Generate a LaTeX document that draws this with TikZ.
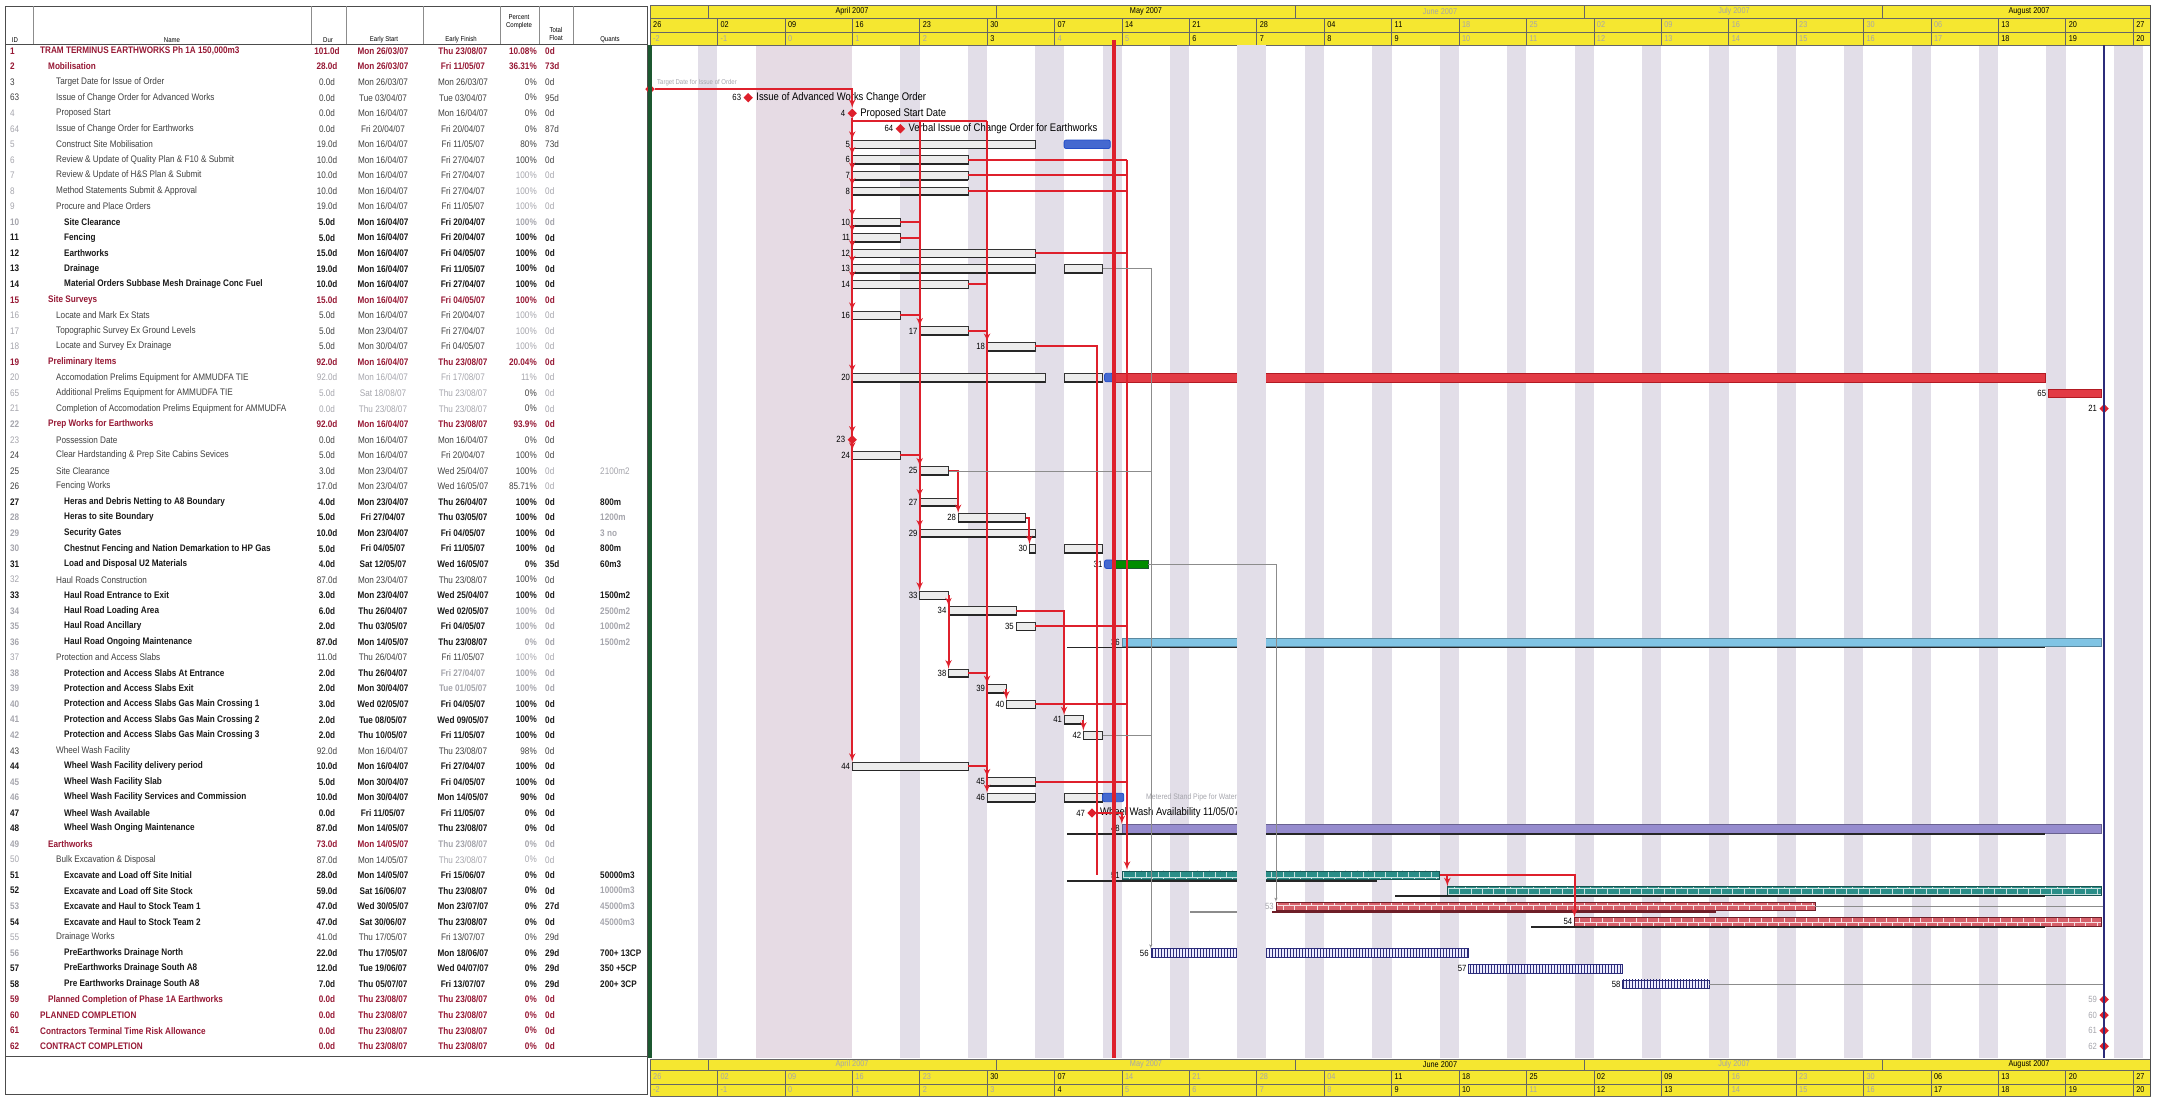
\documentclass[tikz,border=0pt]{standalone}
\usepackage{fontspec}
\setmainfont{Liberation Sans}[FakeStretch=0.86]
\usetikzlibrary{shapes,arrows,patterns,positioning}

\definecolor{hdryel}{RGB}{245,231,48}
\definecolor{wkgray}{RGB}{226,222,232}
\definecolor{eastc}{RGB}{230,219,228}
\definecolor{barg}{RGB}{236,236,236}
\definecolor{redc}{RGB}{222,32,44}
\definecolor{dredc}{RGB}{150,24,52}
\definecolor{grnc}{RGB}{28,88,48}
\definecolor{navyc}{RGB}{44,44,122}
\definecolor{bluec}{RGB}{36,78,200}
\definecolor{lblue}{RGB}{128,196,228}
\definecolor{lavc}{RGB}{150,140,206}
\definecolor{tealc}{RGB}{42,142,136}
\definecolor{pinkc}{RGB}{214,96,106}
\definecolor{maroonc}{RGB}{110,30,40}
\definecolor{fogc}{RGB}{165,165,172}

\newcommand{\tabfont}{\fontsize{9.5}{10}\selectfont}
\newcommand{\blur}{\color{fogc}}

% table styles
\tikzstyle{tbl} = [draw=black!70, line width=0.8pt]
\tikzstyle{tblthin} = [draw=black!45, line width=0.5pt]
\tikzstyle{hd} = [font=\fontsize{7}{7.5}\selectfont, align=center, inner sep=0pt]
\tikzstyle{idc} = [anchor=west, inner sep=0pt]
\tikzstyle{nmc} = [anchor=west, inner sep=0pt]
\tikzstyle{ctr} = [anchor=center, inner sep=0pt]
\tikzstyle{rgt} = [anchor=east, inner sep=0pt]
\tikzstyle{lft} = [anchor=west, inner sep=0pt]
\tikzstyle{rsum} = [text=dredc, font=\tabfont\bfseries]
\tikzstyle{rbold} = [text=black!90, font=\tabfont\bfseries]
\tikzstyle{rnorm} = [text=black!75]
\tikzset{lvl/.code={\def\lvl{#1}}}

% chart styles
\tikzstyle{wkend} = [fill=wkgray]
\tikzstyle{hdrline} = [draw=black!60, line width=0.5pt]
\tikzstyle{ink} = [text=black]
\tikzstyle{fog} = [text=fogc]
\tikzstyle{wtxt} = [font=\fontsize{8.5}{9}\selectfont, anchor=west, inner sep=0pt]
\tikzstyle{mtxt} = [font=\fontsize{8.5}{9}\selectfont, inner sep=0pt]
\tikzstyle{cb} = [inner sep=0pt, outer sep=0pt, minimum height=8.5pt, anchor=west]
\tikzstyle{bar} = [cb, draw=black!80, fill=barg, line width=0.4pt]
\tikzstyle{splitb} = [cb, draw=bluec, fill=bluec!85, line width=0.8pt, rounded corners=2pt]
\tikzstyle{redbar} = [cb, draw=redc!80!black, fill=redc!88, line width=0.4pt]
\tikzstyle{grnbar} = [cb, draw=grnc, fill=green!55!black, line width=0.4pt]
\tikzstyle{bluebar} = [cb, fill=lblue, draw=lblue!70!black, line width=0.3pt]
\tikzstyle{lavbar} = [cb, fill=lavc, draw=lavc!70!black, line width=0.3pt]
\tikzstyle{tealbar} = [cb, draw=tealc!60!black, preaction={fill=tealc}, pattern=bricks, pattern color=white!75!tealc]
\tikzstyle{pinkbar} = [cb, draw=maroonc, preaction={fill=pinkc}, pattern=bricks, pattern color=white!80!pinkc]
\tikzstyle{navbar} = [cb, draw=navyc, preaction={fill=blue!8}, pattern=vertical lines, pattern color=navyc]
\tikzstyle{num} = [font=\fontsize{9}{9.5}\selectfont, inner sep=2pt, text=black]
\tikzstyle{lbl} = [font=\fontsize{11}{12}\selectfont, inner sep=3pt, text=black]
\tikzstyle{mile} = [diamond, fill=redc, inner sep=0pt, minimum size=9.5pt]
\tikzstyle{prog} = [draw=black!85, line width=1.7pt]
\tikzstyle{baseln} = [draw=black!85, line width=1.8pt]
\tikzstyle{link} = [draw=redc, line width=2pt]
\tikzstyle{glink} = [draw=black!45, line width=0.5pt]

\newcount\rowno
\newcommand{\trow}[9]{\global\advance\rowno by 1\relax
  \begin{scope}[#1]
  \node[idc] (id\the\rowno) at (10,{ry(\the\rowno)}) {#2};
  \node[nmc] (nm\the\rowno) at ({40+8*(\lvl-1)},{ry(\the\rowno)}) {#3};
  \node[ctr] (du\the\rowno) at (327,{ry(\the\rowno)}) {#4};
  \node[ctr] (es\the\rowno) at (383,{ry(\the\rowno)}) {#5};
  \node[ctr] (ef\the\rowno) at (463,{ry(\the\rowno)}) {#6};
  \node[rgt] (pc\the\rowno) at (537,{ry(\the\rowno)}) {#7};
  \node[lft] (tf\the\rowno) at (545,{ry(\the\rowno)}) {#8};
  \node[lft] (qu\the\rowno) at (600,{ry(\the\rowno)}) {#9};
  \end{scope}}
\newcommand{\cbar}[6][bar]{\node[#1, minimum width={(#5-#4)*9.63pt}, label={[num]left:#6}] (#2) at ({dd(#4)},{ry(#3)}) {};}
\newcommand{\gbar}[5]{\cbar{#1}{#2}{#3}{#4}{#5}\draw[prog] (#1.south west) -- (#1.south east);}

\begin{document}
\begin{tikzpicture}[x=1pt, y=-1pt, font=\tabfont,
    declare function={dd(\d)=650+9.63*\d; ry(\k)=51+15.55*(\k-1);}]
  \useasboundingbox (0,0) rectangle (2170,1096);

  % Table frame and header
  \draw[tbl] (5,6) rectangle (647,1094);
  \draw[tbl] (5,44) -- (647,44);
  \draw[tbl] (5,1056) -- (647,1056);
  \foreach \x in {33,311,346,423,500,539,573} \draw[tblthin] (\x,6) -- (\x,44);
  \node[hd] (hid) at (15,40) {ID};
  \node[hd] (hname) at (172,40) {Name};
  \node[hd] (hdur) at (328,40) {Dur};
  \node[hd] (hes) at (384,40) {Early Start};
  \node[hd] (hef) at (461,40) {Early Finish};
  \node[hd] (hpc) at (519,22) {Percent\\Complete};
  \node[hd] (htf) at (556,34) {Total\\Float};
  \node[hd] (hq) at (610,40) {Quants};

  % Table rows
  \trow{rsum,lvl=1}{1}{TRAM TERMINUS EARTHWORKS Ph 1A 150,000m3}{101.0d}{Mon 26/03/07}{Thu 23/08/07}{10.08\%}{0d}{}
  \trow{rsum,lvl=2}{2}{Mobilisation}{28.0d}{Mon 26/03/07}{Fri 11/05/07}{36.31\%}{73d}{}
  \trow{rnorm,lvl=3}{3}{Target Date for Issue of Order}{0.0d}{Mon 26/03/07}{Mon 26/03/07}{0\%}{0d}{}
  \trow{rnorm,lvl=3}{63}{Issue of Change Order for Advanced Works}{0.0d}{Tue 03/04/07}{Tue 03/04/07}{0\%}{95d}{}
  \trow{rnorm,lvl=3}{\blur 4}{Proposed Start}{0.0d}{Mon 16/04/07}{Mon 16/04/07}{0\%}{0d}{}
  \trow{rnorm,lvl=3}{\blur 64}{Issue of Change Order for Earthworks}{0.0d}{Fri 20/04/07}{Fri 20/04/07}{0\%}{87d}{}
  \trow{rnorm,lvl=3}{\blur 5}{Construct Site Mobilisation}{19.0d}{Mon 16/04/07}{Fri 11/05/07}{80\%}{73d}{}
  \trow{rnorm,lvl=3}{\blur 6}{Review \& Update of Quality Plan \& F10 \& Submit}{10.0d}{Mon 16/04/07}{Fri 27/04/07}{100\%}{0d}{}
  \trow{rnorm,lvl=3}{\blur 7}{Review \& Update of H\&S Plan \& Submit}{10.0d}{Mon 16/04/07}{Fri 27/04/07}{\blur 100\%}{\blur 0d}{}
  \trow{rnorm,lvl=3}{\blur 8}{Method Statements Submit \& Approval}{10.0d}{Mon 16/04/07}{Fri 27/04/07}{\blur 100\%}{\blur 0d}{}
  \trow{rnorm,lvl=3}{\blur 9}{Procure and Place Orders}{19.0d}{Mon 16/04/07}{Fri 11/05/07}{\blur 100\%}{\blur 0d}{}
  \trow{rbold,lvl=4}{\blur 10}{Site Clearance}{5.0d}{Mon 16/04/07}{Fri 20/04/07}{\blur 100\%}{\blur 0d}{}
  \trow{rbold,lvl=4}{11}{Fencing}{5.0d}{Mon 16/04/07}{Fri 20/04/07}{100\%}{0d}{}
  \trow{rbold,lvl=4}{12}{Earthworks}{15.0d}{Mon 16/04/07}{Fri 04/05/07}{100\%}{0d}{}
  \trow{rbold,lvl=4}{13}{Drainage}{19.0d}{Mon 16/04/07}{Fri 11/05/07}{100\%}{0d}{}
  \trow{rbold,lvl=4}{14}{Material Orders Subbase Mesh Drainage Conc Fuel}{10.0d}{Mon 16/04/07}{Fri 27/04/07}{100\%}{0d}{}
  \trow{rsum,lvl=2}{15}{Site Surveys}{15.0d}{Mon 16/04/07}{Fri 04/05/07}{100\%}{0d}{}
  \trow{rnorm,lvl=3}{\blur 16}{Locate and Mark Ex Stats}{5.0d}{Mon 16/04/07}{Fri 20/04/07}{\blur 100\%}{\blur 0d}{}
  \trow{rnorm,lvl=3}{\blur 17}{Topographic Survey Ex Ground Levels}{5.0d}{Mon 23/04/07}{Fri 27/04/07}{\blur 100\%}{\blur 0d}{}
  \trow{rnorm,lvl=3}{\blur 18}{Locate and Survey Ex Drainage}{5.0d}{Mon 30/04/07}{Fri 04/05/07}{\blur 100\%}{\blur 0d}{}
  \trow{rsum,lvl=2}{19}{Preliminary Items}{92.0d}{Mon 16/04/07}{Thu 23/08/07}{20.04\%}{0d}{}
  \trow{rnorm,lvl=3}{\blur 20}{Accomodation Prelims Equipment for AMMUDFA TIE}{\blur 92.0d}{\blur Mon 16/04/07}{\blur Fri 17/08/07}{\blur 11\%}{\blur 0d}{}
  \trow{rnorm,lvl=3}{\blur 65}{Additional Prelims Equipment for AMMUDFA TIE}{\blur 5.0d}{\blur Sat 18/08/07}{\blur Thu 23/08/07}{0\%}{\blur 0d}{}
  \trow{rnorm,lvl=3}{\blur 21}{Completion of Accomodation Prelims Equipment for AMMUDFA}{\blur 0.0d}{\blur Thu 23/08/07}{\blur Thu 23/08/07}{0\%}{\blur 0d}{}
  \trow{rsum,lvl=2}{\blur 22}{Prep Works for Earthworks}{92.0d}{Mon 16/04/07}{Thu 23/08/07}{93.9\%}{0d}{}
  \trow{rnorm,lvl=3}{\blur 23}{Possession Date}{0.0d}{Mon 16/04/07}{Mon 16/04/07}{0\%}{0d}{}
  \trow{rnorm,lvl=3}{24}{Clear Hardstanding \& Prep Site Cabins Sevices}{5.0d}{Mon 16/04/07}{Fri 20/04/07}{100\%}{0d}{}
  \trow{rnorm,lvl=3}{25}{Site Clearance}{3.0d}{Mon 23/04/07}{Wed 25/04/07}{100\%}{\blur 0d}{\blur 2100m2}
  \trow{rnorm,lvl=3}{26}{Fencing Works}{17.0d}{Mon 23/04/07}{Wed 16/05/07}{85.71\%}{\blur 0d}{}
  \trow{rbold,lvl=4}{27}{Heras and Debris Netting to A8 Boundary}{4.0d}{Mon 23/04/07}{Thu 26/04/07}{100\%}{0d}{800m}
  \trow{rbold,lvl=4}{\blur 28}{Heras to site Boundary}{5.0d}{Fri 27/04/07}{Thu 03/05/07}{100\%}{0d}{\blur 1200m}
  \trow{rbold,lvl=4}{\blur 29}{Security Gates}{10.0d}{Mon 23/04/07}{Fri 04/05/07}{100\%}{0d}{\blur 3 no}
  \trow{rbold,lvl=4}{\blur 30}{Chestnut Fencing and Nation Demarkation to HP Gas}{5.0d}{Fri 04/05/07}{Fri 11/05/07}{100\%}{0d}{800m}
  \trow{rbold,lvl=4}{31}{Load and Disposal U2 Materials}{4.0d}{Sat 12/05/07}{Wed 16/05/07}{0\%}{35d}{60m3}
  \trow{rnorm,lvl=3}{\blur 32}{Haul Roads Construction}{87.0d}{Mon 23/04/07}{Thu 23/08/07}{100\%}{0d}{}
  \trow{rbold,lvl=4}{33}{Haul Road Entrance to Exit}{3.0d}{Mon 23/04/07}{Wed 25/04/07}{100\%}{0d}{1500m2}
  \trow{rbold,lvl=4}{\blur 34}{Haul Road Loading Area}{6.0d}{Thu 26/04/07}{Wed 02/05/07}{\blur 100\%}{\blur 0d}{\blur 2500m2}
  \trow{rbold,lvl=4}{\blur 35}{Haul Road Ancillary}{2.0d}{Thu 03/05/07}{Fri 04/05/07}{\blur 100\%}{\blur 0d}{\blur 1000m2}
  \trow{rbold,lvl=4}{\blur 36}{Haul Road Ongoing Maintenance}{87.0d}{Mon 14/05/07}{Thu 23/08/07}{\blur 0\%}{\blur 0d}{\blur 1500m2}
  \trow{rnorm,lvl=3}{\blur 37}{Protection and Access Slabs}{11.0d}{Thu 26/04/07}{Fri 11/05/07}{\blur 100\%}{\blur 0d}{}
  \trow{rbold,lvl=4}{\blur 38}{Protection and Access Slabs At Entrance}{2.0d}{Thu 26/04/07}{\blur Fri 27/04/07}{\blur 100\%}{\blur 0d}{}
  \trow{rbold,lvl=4}{\blur 39}{Protection and Access Slabs Exit}{2.0d}{Mon 30/04/07}{\blur Tue 01/05/07}{\blur 100\%}{\blur 0d}{}
  \trow{rbold,lvl=4}{\blur 40}{Protection and Access Slabs Gas Main Crossing 1}{3.0d}{Wed 02/05/07}{Fri 04/05/07}{100\%}{0d}{}
  \trow{rbold,lvl=4}{\blur 41}{Protection and Access Slabs Gas Main Crossing 2}{2.0d}{Tue 08/05/07}{Wed 09/05/07}{100\%}{0d}{}
  \trow{rbold,lvl=4}{\blur 42}{Protection and Access Slabs Gas Main Crossing 3}{2.0d}{Thu 10/05/07}{Fri 11/05/07}{100\%}{0d}{}
  \trow{rnorm,lvl=3}{43}{Wheel Wash Facility}{92.0d}{Mon 16/04/07}{Thu 23/08/07}{98\%}{0d}{}
  \trow{rbold,lvl=4}{44}{Wheel Wash Facility delivery period}{10.0d}{Mon 16/04/07}{Fri 27/04/07}{100\%}{0d}{}
  \trow{rbold,lvl=4}{\blur 45}{Wheel Wash Facility Slab}{5.0d}{Mon 30/04/07}{Fri 04/05/07}{100\%}{0d}{}
  \trow{rbold,lvl=4}{\blur 46}{Wheel Wash Facility Services and Commission}{10.0d}{Mon 30/04/07}{Mon 14/05/07}{90\%}{0d}{}
  \trow{rbold,lvl=4}{47}{Wheel Wash Available}{0.0d}{Fri 11/05/07}{Fri 11/05/07}{0\%}{0d}{}
  \trow{rbold,lvl=4}{48}{Wheel Wash Onging Maintenance}{87.0d}{Mon 14/05/07}{Thu 23/08/07}{0\%}{0d}{}
  \trow{rsum,lvl=2}{\blur 49}{Earthworks}{73.0d}{Mon 14/05/07}{\blur Thu 23/08/07}{\blur 0\%}{\blur 0d}{}
  \trow{rnorm,lvl=3}{\blur 50}{Bulk Excavation \& Disposal}{87.0d}{Mon 14/05/07}{\blur Thu 23/08/07}{\blur 0\%}{\blur 0d}{}
  \trow{rbold,lvl=4}{51}{Excavate and Load off Site Initial}{28.0d}{Mon 14/05/07}{Fri 15/06/07}{0\%}{0d}{50000m3}
  \trow{rbold,lvl=4}{52}{Excavate and Load off Site Stock}{59.0d}{Sat 16/06/07}{Thu 23/08/07}{0\%}{0d}{\blur 10000m3}
  \trow{rbold,lvl=4}{\blur 53}{Excavate and Haul to Stock Team 1}{47.0d}{Wed 30/05/07}{Mon 23/07/07}{0\%}{27d}{\blur 45000m3}
  \trow{rbold,lvl=4}{54}{Excavate and Haul to Stock Team 2}{47.0d}{Sat 30/06/07}{Thu 23/08/07}{0\%}{0d}{\blur 45000m3}
  \trow{rnorm,lvl=3}{\blur 55}{Drainage Works}{41.0d}{Thu 17/05/07}{Fri 13/07/07}{0\%}{29d}{}
  \trow{rbold,lvl=4}{\blur 56}{PreEarthworks Drainage North}{22.0d}{Thu 17/05/07}{Mon 18/06/07}{0\%}{29d}{700+ 13CP}
  \trow{rbold,lvl=4}{57}{PreEarthworks Drainage South A8}{12.0d}{Tue 19/06/07}{Wed 04/07/07}{0\%}{29d}{350 +5CP}
  \trow{rbold,lvl=4}{58}{Pre Earthworks Drainage South A8}{7.0d}{Thu 05/07/07}{Fri 13/07/07}{0\%}{29d}{200+ 3CP}
  \trow{rsum,lvl=2}{59}{Planned Completion of Phase 1A Earthworks}{0.0d}{Thu 23/08/07}{Thu 23/08/07}{0\%}{0d}{}
  \trow{rsum,lvl=1}{60}{PLANNED COMPLETION}{0.0d}{Thu 23/08/07}{Thu 23/08/07}{0\%}{0d}{}
  \trow{rsum,lvl=1}{61}{Contractors Terminal Time Risk Allowance}{0.0d}{Thu 23/08/07}{Thu 23/08/07}{0\%}{0d}{}
  \trow{rsum,lvl=1}{62}{CONTRACT COMPLETION}{0.0d}{Thu 23/08/07}{Thu 23/08/07}{0\%}{0d}{}

  % Non-working time
  \foreach \w in {0,...,21} \fill[wkend] ({dd(7*\w+5)},45) rectangle ({dd(7*\w+7)},1058);
  \fill[fill=eastc] ({dd(11)},45) rectangle ({dd(21)},1058);
  \foreach \d in {42,63,154} \fill[wkend] ({dd(\d)},45) rectangle ({dd(\d+1)},1058);

  % Timescale, top and bottom
  \fill[hdryel] (650,5) rectangle (2150,45);
  \fill[hdryel] (650,1059) rectangle (2150,1096);
  \draw[hdrline] (650,5) rectangle (2150,45) (650,18) -- (2150,18) (650,32) -- (2150,32);
  \draw[hdrline] (650,1059) rectangle (2150,1096) (650,1070) -- (2150,1070) (650,1084) -- (2150,1084);
  \foreach \d in {6,36,67,97,128} \draw[hdrline] ({dd(\d)},5) -- ({dd(\d)},18) ({dd(\d)},1059) -- ({dd(\d)},1070);
  \foreach \w in {1,...,22} \draw[hdrline] ({dd(7*\w)},18) -- ({dd(7*\w)},45) ({dd(7*\w)},1070) -- ({dd(7*\w)},1096);
  \foreach \x/\mname/\stA/\stB in {852/April 2007/ink/fog, 1146/May 2007/ink/fog, 1440/June 2007/fog/ink,
      1734/July 2007/fog/fog, 2029/August 2007/ink/ink} {
    \node[mtxt,\stA] (mt\x) at (\x,11.5) {\mname};
    \node[mtxt,\stB] (mb\x) at (\x,1064.5) {\mname};
  }
  \foreach \w/\wlab/\wnum/\stA/\stB/\stC/\stD in {0/26/-2/ink/fog/fog/fog, 1/02/-1/ink/fog/fog/fog,
      2/09/0/ink/fog/fog/fog, 3/16/1/ink/fog/fog/fog, 4/23/2/ink/fog/fog/fog, 5/30/3/ink/ink/ink/fog,
      6/07/4/ink/fog/ink/ink, 7/14/5/ink/fog/fog/fog, 8/21/6/ink/ink/fog/fog, 9/28/7/ink/ink/fog/fog,
      10/04/8/ink/ink/fog/fog, 11/11/9/ink/ink/ink/ink, 12/18/10/fog/fog/ink/ink, 13/25/11/fog/fog/ink/fog,
      14/02/12/fog/fog/ink/ink, 15/09/13/fog/fog/ink/ink, 16/16/14/fog/fog/fog/fog, 17/23/15/fog/fog/fog/fog,
      18/30/16/fog/fog/fog/fog, 19/06/17/fog/fog/ink/ink, 20/13/18/ink/ink/ink/ink, 21/20/19/ink/ink/ink/ink,
      22/27/20/ink/ink/ink/ink} {
    \node[wtxt,\stA] (wt\w) at ({dd(7*\w)+3},25) {\wlab};
    \node[wtxt,\stB] (nt\w) at ({dd(7*\w)+3},38.5) {\wnum};
    \node[wtxt,\stC] (wb\w) at ({dd(7*\w)+3},1077) {\wlab};
    \node[wtxt,\stD] (nb\w) at ({dd(7*\w)+3},1090) {\wnum};
  }

  % Place milestones
  \node[mile] (m3) at ({dd(0)},{ry(3)+7}) {};
  \node[font=\fontsize{7}{8}\selectfont, text=fogc, anchor=west, inner sep=0pt] (m3t) at (657,{ry(3)+1}) {Target Date for Issue of Order};
  \node[mile, label={[num]left:63}, label={[lbl]right:Issue of Advanced Works Change Order}] (m63) at ({dd(10.2)},{ry(4)}) {};
  \node[mile, label={[num]left:4}, label={[lbl]right:Proposed Start Date}] (m4) at ({dd(21)},{ry(5)}) {};
  \node[mile, label={[num]left:64}, label={[lbl]right:Verbal Issue of Change Order for Earthworks}] (m64) at ({dd(26)},{ry(6)}) {};
  \node[mile, label={[num]left:23}] (m23) at ({dd(21)},{ry(26)}) {};
  \node[mile, label={[num]left:47}, label={[lbl]right:Wheel Wash Availability 11/05/07}] (m47) at (1092,{ry(50)}) {};
  \node[mile, label={[num]left:21}] (m21) at ({dd(151)},{ry(24)}) {};
  \foreach \r/\i in {62/59,63/60,64/61,65/62}
    \node[mile, label={[num,text=fogc]left:\i}] (m\i) at ({dd(151)},{ry(\r)}) {};

  % Place bars
  \gbar{t5}{7}{21}{40}{5}
  \cbar[splitb]{t5b}{7}{43}{47.8}{}
  \gbar{t6}{8}{21}{33}{6}
  \gbar{t7}{9}{21}{33}{7}
  \gbar{t8}{10}{21}{33}{8}
  \gbar{t10}{12}{21}{26}{10}
  \gbar{t11}{13}{21}{26}{11}
  \gbar{t12}{14}{21}{40}{12}
  \gbar{t13}{15}{21}{40}{13}
  \gbar{t13b}{15}{43}{47}{}
  \gbar{t14}{16}{21}{33}{14}
  \gbar{t16}{18}{21}{26}{16}
  \gbar{t17}{19}{28}{33}{17}
  \gbar{t18}{20}{35}{40}{18}
  \gbar{t20}{22}{21}{41}{20}
  \gbar{t20b}{22}{43}{47}{}
  \cbar[splitb]{t20c}{22}{47.2}{48.1}{}
  \cbar[redbar]{t20r}{22}{48.1}{144.9}{}
  \cbar[redbar]{t65}{23}{145.2}{150.7}{65}
  \gbar{t24}{27}{21}{26}{24}
  \gbar{t25}{28}{28}{31}{25}
  \gbar{t27}{30}{28}{32}{27}
  \gbar{t28}{31}{32}{39}{28}
  \gbar{t29}{32}{28}{40}{29}
  \gbar{t30}{33}{39.4}{40}{30}
  \gbar{t30b}{33}{43}{47}{}
  \cbar[splitb]{t31c}{34}{47.2}{48.1}{31}
  \cbar[grnbar]{t31}{34}{48.1}{51.7}{}
  \gbar{t33}{36}{28}{31}{33}
  \gbar{t34}{37}{31}{38}{34}
  \gbar{t35}{38}{38}{40}{35}
  \cbar[bluebar]{t36}{39}{49}{150.7}{36}
  \gbar{t38}{41}{31}{33}{38}
  \gbar{t39}{42}{35}{37}{39}
  \gbar{t40}{43}{37}{40}{40}
  \gbar{t41}{44}{43}{45}{41}
  \gbar{t42}{45}{45}{47}{42}
  \gbar{t44}{47}{21}{33}{44}
  \gbar{t45}{48}{35}{40}{45}
  \gbar{t46}{49}{35}{40}{46}
  \gbar{t46b}{49}{43}{47}{}
  \cbar[splitb]{t46c}{49}{47}{49.2}{}
  \node[font=\fontsize{8}{9}\selectfont, text=fogc, anchor=west, inner sep=0pt] (t46t) at (1146,{ry(49)}) {Metered Stand Pipe for Water Supply};
  \cbar[lavbar]{t48}{51}{49}{150.7}{48}
  \cbar[tealbar]{t51}{54}{49}{82}{51}
  \cbar[tealbar]{t52}{55}{82.8}{150.7}{}
  \cbar[pinkbar]{t53}{56}{65}{121}{}
  \cbar[pinkbar]{t54}{57}{96}{150.7}{54}
  \cbar[navbar]{t56}{59}{52}{85}{56}
  \cbar[navbar]{t57}{60}{85}{101}{57}
  \cbar[navbar]{t58}{61}{101}{110}{58}

  % Baselines under the long bars
  \draw[baseln] (1067,{ry(39)+5.5}) -- (2045,{ry(39)+5.5});
  \draw[baseln] (1067,{ry(51)+5.5}) -- (2045,{ry(51)+5.5});
  \draw[baseln] (1067,{ry(54)+5.5}) -- (1377,{ry(54)+5.5});
  \draw[baseln] (1395,{ry(55)+5.5}) -- (2045,{ry(55)+5.5});
  \draw[baseln, draw=black!45] (1190,{ry(56)+5.5}) -- (1246,{ry(56)+5.5});
  \draw[baseln, draw=maroonc] (1272,{ry(56)+5.5}) -- (1716,{ry(56)+5.5});
  \draw[baseln] (1531,{ry(57)+5.5}) -- (2045,{ry(57)+5.5});

  % Bank holiday in front of the bars
  \fill[wkend] ({dd(61)},45) rectangle ({dd(64)},1058);
  \node[num, text=fogc, anchor=east] (l53) at (t53.west) {53};

  % Draw edges
  \coordinate (topB) at ({dd(28)},121);
  \coordinate (topC) at ({dd(35)},121);
  \coordinate (vE) at (1127,{ry(8)});
  \coordinate (vEend) at (1127,{ry(54)-5});
  \coordinate (vDend) at (1097,{ry(54)});
  \draw[link,-latex'] (m3) -| (m4.north);
  \draw[link,-latex'] (m4.south) -- (t44.north west);
  \draw[link] (m4.south) |- (topC);
  \draw[link,-latex'] (topB) -- (t33.north west);
  \draw[link,-latex'] (topC) -- (t46.north west);
  \draw[link,-latex'] (vE) -- (vEend);
  \foreach \n in {t5,t6,t7,t8,t10,t11,t12,t13,t14,t16,t20,t24,t17,t25,t27,t29,t18,t39,t45,t34}
    \draw[link,-latex'] ([yshift=7pt]\n.north west) -- (\n.north west);
  \draw[link,-latex'] ([yshift=8pt]m23.north) -- (m23.north);
  \foreach \n in {t6,t7,t8,t12,t35,t40,t45} \draw[link] (\n.east) -- (\n.east -| vE);
  \foreach \n in {t10,t11,t16,t24} \draw[link] (\n.east) -- (\n.east -| topB);
  \foreach \n in {t14,t17,t38,t44} \draw[link] (\n.east) -- (\n.east -| topC);
  \draw[link] (t18.east) -| (vDend);
  \draw[link,-latex'] (t25.east) -| (t28.north west);
  \draw[link,-latex'] (t28.east) -| (t30.north west);
  \draw[link,-latex'] (t33.east) -| (t38.north west);
  \draw[link,-latex'] (t34.east) -| (t41.north west);
  \draw[link,-latex'] (t39.east) -| (t40.north west);
  \draw[link,-latex'] (t41.east) -| (t42.north west);
  \draw[link,-latex'] (m47.east) -| (t48.north west);
  \draw[link,-latex'] (t51.east) -| (t54.north west);
  \draw[link,-latex'] (t51.east) -| (t52.north west);
  \draw[glink,-latex'] (t13b.east) -| (t56.north west);
  \draw[glink] (t25.east) -- (t25.east -| t56.west);
  \draw[glink] (t42.east) -- (t42.east -| t56.west);
  \draw[glink,-latex'] (t31.east) -| (t53.north west);
  \draw[glink] (t53.east) -- (t53.east -| m59);
  \draw[glink] (t58.east) -- (t58.east -| m59);

  % Date lines
  \draw[grnc, line width=3.5pt] (650,45) -- (650,1058);
  \draw[redc, line width=4.5pt] (1114,40) -- (1114,1058);
  \draw[navyc, line width=2.5pt] (2104,45) -- (2104,1058);
  \draw[black!70, line width=1pt] (2150,5) -- (2150,1096);
\end{tikzpicture}
\end{document}
